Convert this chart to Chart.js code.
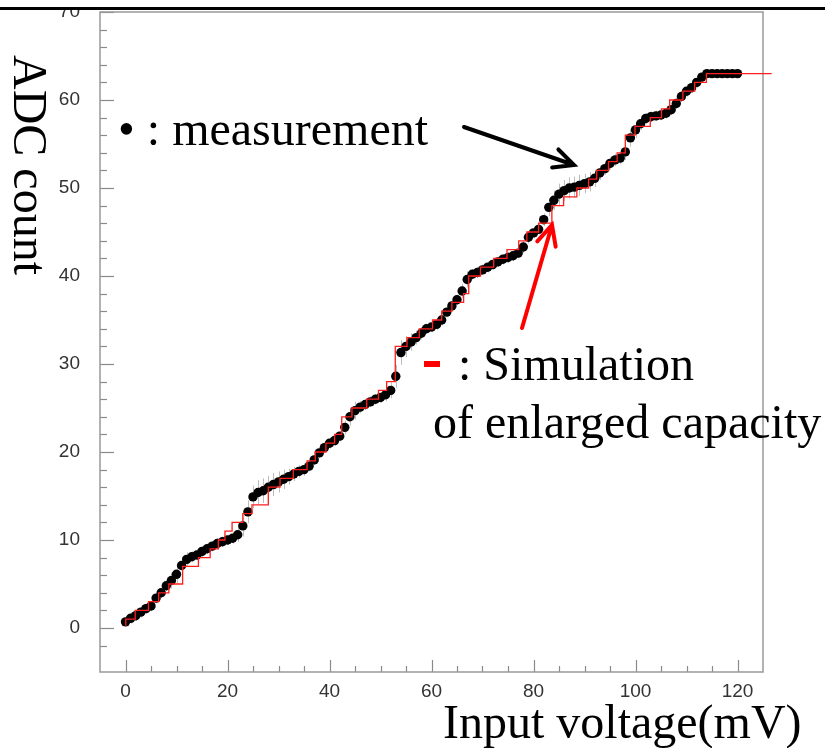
<!DOCTYPE html>
<html>
<head>
<meta charset="utf-8">
<title>ADC count vs input voltage</title>
<script src="https://cdn.jsdelivr.net/npm/chart.js@4.4.1/dist/chart.umd.min.js"></script>
<style>
  html, body { margin: 0; padding: 0; background: #fff; }
  #wrap { width: 825px; height: 748px; position: relative; }
</style>
</head>
<body>
<div id="wrap"><canvas id="adcChart" width="825" height="748"></canvas></div>
<script>
// measured points (input voltage in mV, ADC count, error)
const measV = [
  0, 1, 2, 3, 4, 5, 6, 7, 8, 9, 10, 11, 12, 13, 14, 15, 16, 17, 18, 19,
  20, 21, 22, 23, 24, 25, 26, 27, 28, 29, 30, 31, 32, 33, 34, 35, 36, 37, 38, 39,
  40, 41, 42, 43, 44, 45, 46, 47, 48, 49, 50, 51, 52, 53, 54, 55, 56, 57, 58, 59,
  60, 61, 62, 63, 64, 65, 66, 67, 68, 69, 70, 71, 72, 73, 74, 75, 76, 77, 78, 79,
  80, 81, 82, 83, 84, 85, 86, 87, 88, 89, 90, 91, 92, 93, 94, 95, 96, 97, 98, 99,
  100, 101, 102, 103, 104, 105, 106, 107, 108, 109, 110, 111, 112, 113, 114, 115, 116, 117, 118, 119,
  120
];
const measC = [
  0.7, 1.1, 1.4, 1.8, 2.2, 2.5, 3.4, 4.0, 4.8, 5.4, 6.1, 7.1, 7.8, 8.1, 8.3, 8.7, 9.0, 9.3, 9.6, 9.8,
  10.0, 10.2, 10.6, 11.6, 13.2, 14.9, 15.4, 15.6, 16.0, 16.3, 16.6, 16.9, 17.2, 17.5, 17.8, 18.0, 18.4, 19.1, 19.9, 20.5,
  21.0, 21.3, 21.8, 22.8, 24.0, 24.7, 25.1, 25.4, 25.7, 26.0, 26.2, 26.5, 27.0, 28.6, 31.3, 32.0, 32.5, 33.0, 33.5, 34.0,
  34.2, 34.5, 35.0, 35.9, 36.6, 37.3, 38.3, 39.6, 40.2, 40.4, 40.7, 41.0, 41.3, 41.6, 41.9, 42.1, 42.3, 42.6, 43.3, 44.4,
  44.9, 45.3, 46.4, 47.8, 48.6, 49.3, 49.7, 50.0, 50.1, 50.3, 50.5, 50.7, 51.1, 51.7, 52.2, 52.8, 53.2, 53.4, 54.1, 55.7,
  56.6, 57.3, 57.9, 58.1, 58.2, 58.3, 58.5, 58.9, 59.6, 60.4, 61.0, 61.4, 62.0, 62.6, 63.0, 63.0, 63.0, 63.0, 63.0, 63.0,
  63.0
];
const measErr = [
  0.5, 0.6, 0.6, 0.6, 0.6, 0.6, 0.6, 0.6, 0.6, 0.9, 1.0, 1.0, 0.8, 0.6, 0.6, 0.6, 0.6, 0.6, 0.6, 0.6,
  0.6, 0.6, 0.8, 1.2, 1.3, 1.3, 1.4, 1.4, 1.3, 1.3, 1.2, 1.1, 0.9, 0.8, 0.7, 0.7, 0.6, 0.6, 0.6, 0.6,
  0.6, 0.6, 0.6, 0.8, 1.0, 1.0, 0.7, 0.6, 0.6, 0.6, 0.6, 0.7, 0.9, 1.3, 1.4, 1.2, 1.0, 0.8, 0.7, 0.6,
  0.6, 0.6, 0.6, 0.6, 0.6, 0.6, 0.8, 0.9, 0.6, 0.6, 0.6, 0.6, 0.6, 0.6, 0.6, 0.6, 0.6, 0.6, 0.7, 0.7,
  0.6, 0.6, 0.7, 1.0, 1.1, 1.2, 1.2, 1.2, 1.2, 1.2, 1.1, 1.1, 1.0, 0.8, 0.7, 0.7, 0.7, 0.7, 0.9, 1.0,
  0.9, 0.7, 0.6, 0.6, 0.6, 0.6, 0.6, 0.6, 0.6, 0.6, 0.6, 0.6, 0.6, 0.6, 0.5, 0.5, 0.5, 0.5, 0.5, 0.5,
  0.5
];

// simulation of enlarged capacity: count reaches simC[i] at voltage simV[i]
const simV = [0, 0.05, 1.9, 4.5, 6.5, 8.5, 11.2, 14.3, 16.6, 18.2, 19.5, 20.9, 23.0, 24.8, 28.0, 30.3, 32.9, 35.6,
  37.2, 39.3, 41.0, 42.4, 44.4, 47.3, 49.6, 51.2, 52.9, 55.2, 57.6, 60.2, 62.0, 64.0, 66.3, 67.3, 69.6, 72.2,
  74.8, 77.1, 78.7, 81.0, 83.6, 85.9, 88.5, 90.8, 92.4, 94.7, 96.4, 98.0, 99.9, 102.9, 105.1, 106.7, 109.3, 111.6,
  113.9, 126.7];
const simC = [0.3, 1, 2, 3, 4, 5, 7, 8, 9, 10, 11, 12, 13, 14, 16, 17, 18, 19,
  20, 21, 22, 24, 25, 26, 27, 28, 32, 33, 34, 35, 36, 37, 38, 40, 41, 42,
  43, 44, 45, 46, 48, 49, 50, 51, 52, 53, 54, 56, 57, 58, 59, 60, 61, 62,
  63, 63];

const xLabelEvery = 20;
const yLabelEvery = 10;

const serif = "'Liberation Serif', 'Times New Roman', serif";
const sans = "'Liberation Sans', Arial, sans-serif";

// frame, inward tick marks and error bars, all behind the data
const framePlugin = {
  id: 'framePlugin',
  beforeDatasetsDraw(chart) {
    const { ctx, chartArea: a, scales: { x, y } } = chart;
    ctx.save();

    // error bars
    ctx.strokeStyle = '#bdbdbd';
    ctx.lineWidth = 1;
    measV.forEach((v, i) => {
      const px = Math.round(x.getPixelForValue(v)) + 0.5;
      ctx.beginPath();
      ctx.moveTo(px, y.getPixelForValue(measC[i] - measErr[i]));
      ctx.lineTo(px, y.getPixelForValue(measC[i] + measErr[i]));
      ctx.stroke();
    });

    // ticks pointing into the plot
    ctx.strokeStyle = '#8a8a8a';
    ctx.lineWidth = 1.2;
    y.ticks.forEach(t => {
      if (t.value % 2 !== 0) return;
      const py = Math.round(y.getPixelForValue(t.value)) + 0.5;
      const len = t.value % yLabelEvery === 0 ? 14 : 7;
      ctx.beginPath();
      ctx.moveTo(a.left, py);
      ctx.lineTo(a.left + len, py);
      ctx.stroke();
    });
    x.ticks.forEach(t => {
      if (t.value % 5 !== 0 || t.value <= x.min || t.value >= x.max) return;
      const px = Math.round(x.getPixelForValue(t.value)) + 0.5;
      const len = t.value % xLabelEvery === 0 ? 12 : 6;
      ctx.beginPath();
      ctx.moveTo(px, a.bottom);
      ctx.lineTo(px, a.bottom - len);
      ctx.stroke();
    });

    // frame
    ctx.strokeStyle = '#999';
    ctx.lineWidth = 1.5;
    ctx.strokeRect(a.left, a.top, a.right - a.left, a.bottom - a.top);
    ctx.restore();
  }
};

function arrow(ctx, x1, y1, x2, y2, color) {
  const ang = Math.atan2(y2 - y1, x2 - x1);
  const head = 22;
  ctx.strokeStyle = color;
  ctx.lineWidth = 4;
  ctx.lineCap = 'round';
  ctx.beginPath();
  ctx.moveTo(x1, y1);
  ctx.lineTo(x2, y2);
  ctx.moveTo(x2 - head * Math.cos(ang - 0.45), y2 - head * Math.sin(ang - 0.45));
  ctx.lineTo(x2, y2);
  ctx.lineTo(x2 - head * Math.cos(ang + 0.45), y2 - head * Math.sin(ang + 0.45));
  ctx.stroke();
}

// slide text, arrows and the top rule
const notesPlugin = {
  id: 'notesPlugin',
  afterDraw(chart) {
    const { ctx } = chart;
    ctx.save();
    ctx.fillStyle = '#fff';
    ctx.fillRect(0, 0, 825, 7);
    ctx.fillStyle = '#000';
    ctx.fillRect(0, 7, 825, 3);

    ctx.font = '48px ' + serif;
    ctx.textBaseline = 'alphabetic';
    ctx.textAlign = 'left';
    ctx.fillStyle = '#000';
    ctx.fillText('• : measurement', 118, 145);
    ctx.fillText(': Simulation', 458, 380);
    ctx.fillText('of enlarged capacity', 433, 438);
    ctx.fillText('Input voltage(mV)', 443, 738);

    ctx.save();
    ctx.translate(14, 55);
    ctx.rotate(Math.PI / 2);
    ctx.fillText('ADC count', 0, 0);
    ctx.restore();

    ctx.fillStyle = '#ff0000';
    ctx.fillRect(424, 361, 16, 6);

    arrow(ctx, 464, 127, 574, 165, '#000');
    arrow(ctx, 522, 328, 552, 225, '#ff0000');
    ctx.restore();
  }
};

new Chart(document.getElementById('adcChart'), {
  data: {
    datasets: [
      {
        type: 'line',
        label: 'Simulation of enlarged capacity',
        data: simV.map((v, i) => ({ x: v, y: simC[i] })),
        stepped: 'before',
        borderColor: '#ff1f1f',
        borderWidth: 1.3,
        pointRadius: 0,
        fill: false,
        clip: false
      },
      {
        type: 'scatter',
        label: 'measurement',
        data: measV.map((v, i) => ({ x: v, y: measC[i] })),
        backgroundColor: '#000',
        borderWidth: 0,
        pointRadius: 4.7
      }
    ]
  },
  options: {
    responsive: false,
    animation: false,
    devicePixelRatio: 1,
    layout: { padding: { top: 12, right: 62, left: 0, bottom: 0 } },
    plugins: {
      legend: { display: false },
      tooltip: { enabled: false }
    },
    scales: {
      x: {
        type: 'linear',
        min: -5,
        max: 125,
        grid: { display: false },
        border: { display: false },
        ticks: {
          stepSize: 5,
          autoSkip: false,
          maxRotation: 0,
          padding: 0,
          color: '#333',
          font: { family: sans, size: 19 },
          callback: v => (v % xLabelEvery === 0 && v >= 0 && v <= 120 ? v : '')
        },
        afterFit: s => { s.height = 76; s.paddingLeft = 0; s.paddingRight = 0; }
      },
      y: {
        type: 'linear',
        min: -5,
        max: 70,
        grid: { display: false },
        border: { display: false },
        ticks: {
          stepSize: 2,
          autoSkip: false,
          padding: 12,
          color: '#333',
          font: { family: sans, size: 19 },
          callback: v => (v % yLabelEvery === 0 ? v : '')
        },
        afterFit: s => { s.width = 100; s.paddingTop = 0; s.paddingBottom = 0; }
      }
    }
  },
  plugins: [framePlugin, notesPlugin]
});
</script>
</body>
</html>
